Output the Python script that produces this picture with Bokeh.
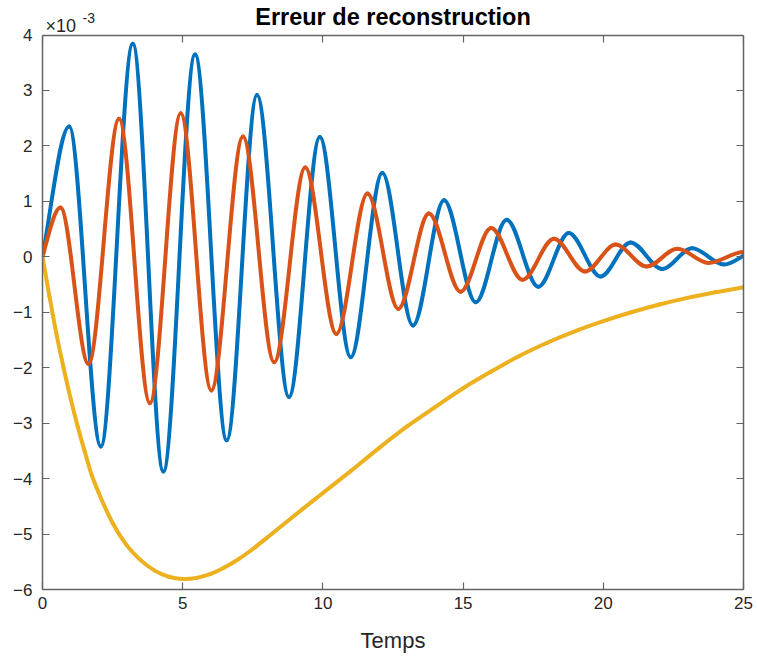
import numpy as np
from bokeh.plotting import figure
from bokeh.models import (Range1d, LinearAxis, FixedTicker, Label, ColumnDataSource,
                          CustomJSTickFormatter)
from bokeh.embed import file_html
from bokeh.resources import INLINE

# Reconstruction error (units of 1e-3) versus time.
# Oscillating signals: start point, successive extrema, end point.
t_blue = [0.0, 0.95, 2.08, 3.22, 4.31, 5.44, 6.57, 7.65, 8.79, 9.89, 10.99, 12.12,
          13.21, 14.32, 15.45, 16.55, 17.68, 18.77, 19.90, 20.97, 22.10, 23.17, 24.30, 25.0]
v_blue = [0.0, 2.35, -3.42, 3.84, -3.87, 3.65, -3.31, 2.92, -2.53, 2.16, -1.81, 1.51,
          -1.24, 1.02, -0.82, 0.67, -0.54, 0.43, -0.355, 0.26, -0.22, 0.155, -0.14, 0.02]

t_orange = [0.0, 0.64, 1.64, 2.73, 3.83, 4.93, 6.02, 7.15, 8.26, 9.37, 10.48, 11.59,
            12.69, 13.78, 14.91, 16.00, 17.12, 18.24, 19.35, 20.44, 21.55, 22.64, 23.75, 25.0]
v_orange = [0.0, 0.89, -1.93, 2.49, -2.64, 2.59, -2.41, 2.17, -1.90, 1.61, -1.39, 1.14,
            -0.94, 0.78, -0.63, 0.52, -0.415, 0.325, -0.265, 0.22, -0.175, 0.145, -0.11, 0.085]

# Smooth overshoot signal, sampled along the curve.
t_yellow = [0.0, 0.25, 0.5, 0.75, 1.0, 1.25, 1.5, 1.75, 2.0, 2.5, 3.0, 3.5, 4.0, 4.5,
            5.0, 5.5, 6.0, 6.5, 7.0, 7.5, 8.0, 9.0, 10.0, 11.0, 12.0, 13.0, 14.0, 15.0,
            16.0, 17.0, 18.0, 19.0, 20.0, 21.0, 22.0, 23.0, 24.0, 25.0]
v_yellow = [0.0, -0.72, -1.40, -2.00, -2.55, -3.05, -3.50, -3.93, -4.25, -4.80, -5.20,
            -5.47, -5.66, -5.77, -5.81, -5.79, -5.72, -5.60, -5.45, -5.27, -5.07, -4.66,
            -4.26, -3.86, -3.45, -3.06, -2.71, -2.37, -2.07, -1.79, -1.55, -1.34, -1.16,
            -1.00, -0.86, -0.74, -0.64, -0.55]

x_ticks = [0, 5, 10, 15, 20, 25]
y_ticks = [-6, -5, -4, -3, -2, -1, 0, 1, 2, 3, 4]
X_MIN, X_MAX = 0, 25
Y_MIN, Y_MAX = -6, 4

BLUE, ORANGE, YELLOW = "#0072BD", "#D95319", "#EDB120"
AXIS_COLOR = "#636363"
TEXT_COLOR = "#262626"
FONT = "Liberation Sans"

HEIGHT, BOTTOM = 657, 68
BOX_TOP_PX = 34.5          # distance from canvas top to the y = 4 box edge
frame_h = HEIGHT - BOTTOM
headroom = BOX_TOP_PX * (Y_MAX - Y_MIN) / (frame_h - BOX_TOP_PX)


def hermite_bezier(t, v, slopes):
    """Cubic Hermite pieces through (t, v) with given tangents, as Bezier controls."""
    t = np.asarray(t, float)
    v = np.asarray(v, float)
    m = np.asarray(slopes, float)
    dt = np.diff(t)
    return ColumnDataSource(dict(
        x0=t[:-1], y0=v[:-1], x1=t[1:], y1=v[1:],
        cx0=t[:-1] + dt / 3, cy0=v[:-1] + m[:-1] * dt / 3,
        cx1=t[1:] - dt / 3, cy1=v[1:] - m[1:] * dt / 3,
    ))


def extrema_slopes(n, start, end):
    s = np.zeros(n)
    s[0], s[-1] = start, end
    return s


p = figure(width=757, height=HEIGHT, output_backend="svg", toolbar_location=None,
           x_range=Range1d(X_MIN, X_MAX), y_range=Range1d(Y_MIN, Y_MAX + headroom),
           min_border_left=42, min_border_right=14, min_border_top=0,
           min_border_bottom=BOTTOM, background_fill_color="white",
           border_fill_color="white")
p.grid.visible = False
p.outline_line_color = None

line_kw = dict(line_width=4, line_cap="round", line_join="round")
p.bezier("x0", "y0", "x1", "y1", "cx0", "cy0", "cx1", "cy1",
         source=hermite_bezier(t_blue, v_blue, extrema_slopes(len(t_blue), 2.7, 0.3)),
         line_color=BLUE, **line_kw)
p.bezier("x0", "y0", "x1", "y1", "cx0", "cy0", "cx1", "cy1",
         source=hermite_bezier(t_orange, v_orange, extrema_slopes(len(t_orange), 1.8, 0.0)),
         line_color=ORANGE, **line_kw)
p.bezier("x0", "y0", "x1", "y1", "cx0", "cy0", "cx1", "cy1",
         source=hermite_bezier(t_yellow, v_yellow, np.gradient(v_yellow, t_yellow)),
         line_color=YELLOW, **line_kw)

blank = CustomJSTickFormatter(code="return ''")


def style_axis(ax, show_labels):
    ax.axis_line_color = AXIS_COLOR
    ax.axis_line_width = 1.5
    ax.major_tick_line_color = AXIS_COLOR
    ax.major_tick_line_width = 1.2
    ax.major_tick_in = 7
    ax.major_tick_out = 0
    ax.minor_tick_in = 0
    ax.minor_tick_out = 0
    ax.major_label_text_font = FONT
    ax.major_label_text_color = TEXT_COLOR
    ax.major_label_text_font_size = "17px"
    if not show_labels:
        ax.formatter = blank
        ax.major_label_standoff = 0


xa = p.xaxis[0]
ya = p.yaxis[0]
xa.ticker = FixedTicker(ticks=x_ticks)
ya.ticker = FixedTicker(ticks=y_ticks)
style_axis(xa, True)
style_axis(ya, True)
ya.bounds = (Y_MIN, Y_MAX)
xa.major_label_standoff = 7
ya.major_label_standoff = 10
xa.axis_label = "Temps"
xa.axis_label_text_font = FONT
xa.axis_label_text_font_size = "22px"
xa.axis_label_text_font_style = "normal"
xa.axis_label_text_color = TEXT_COLOR
xa.axis_label_standoff = 16

# box edges: top axis sits on y = 4, right axis on x = 25
top = LinearAxis(ticker=FixedTicker(ticks=x_ticks), fixed_location=Y_MAX)
right = LinearAxis(ticker=FixedTicker(ticks=y_ticks), bounds=(Y_MIN, Y_MAX))
style_axis(top, False)
style_axis(right, False)
p.add_layout(top, "above")
p.add_layout(right, "right")

# Title and scale factor above the box
p.add_layout(Label(x=(X_MIN + X_MAX) / 2, y=Y_MAX, y_offset=18,
                   text="Erreur de reconstruction", text_font=FONT,
                   text_font_size="23.5px", text_font_style="bold", text_color="#000000",
                   text_align="center", text_baseline="alphabetic"))
p.add_layout(Label(x=X_MIN, y=Y_MAX, x_offset=3, y_offset=9.5, text="×10",
                   text_font=FONT, text_font_size="18px", text_color=TEXT_COLOR,
                   text_baseline="alphabetic", text_align="left"))
p.add_layout(Label(x=X_MIN, y=Y_MAX, x_offset=40, y_offset=17, text="-3",
                   text_font=FONT, text_font_size="14px", text_color=TEXT_COLOR,
                   text_baseline="alphabetic", text_align="left"))

open("out.html", "w").write(file_html(p, INLINE))
